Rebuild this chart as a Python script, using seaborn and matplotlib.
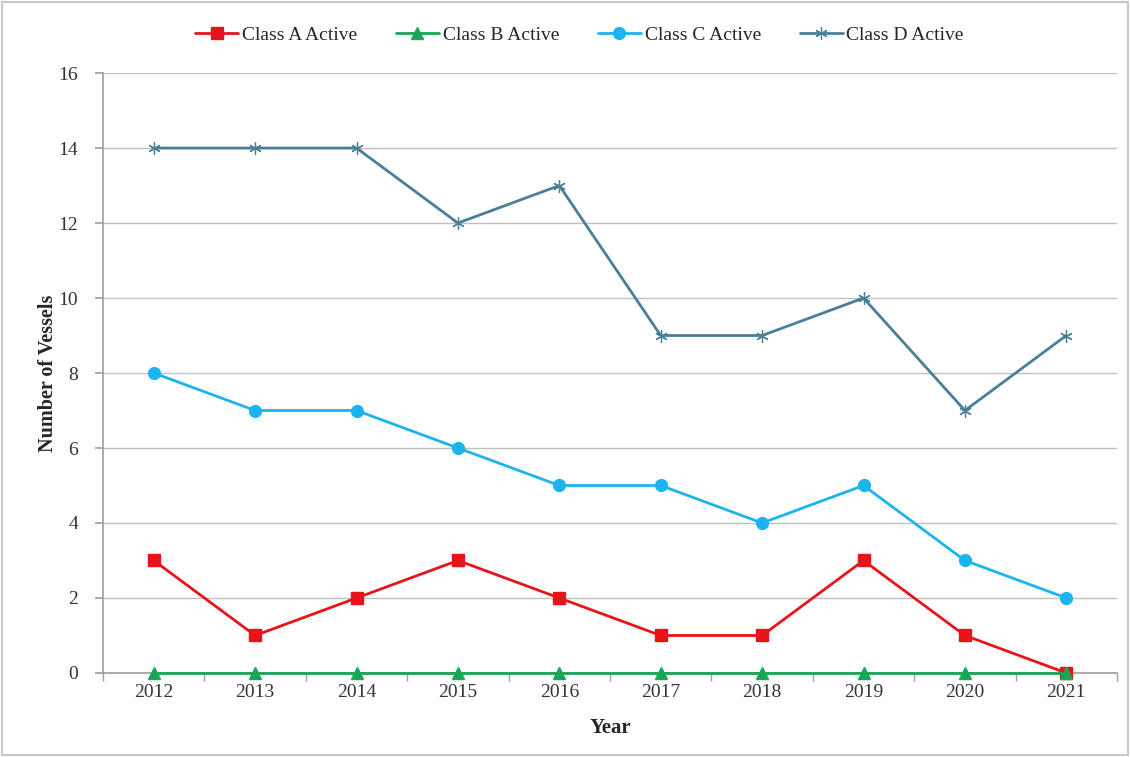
import matplotlib
matplotlib.use("Agg")
import matplotlib.pyplot as plt
import seaborn as sns
import pandas as pd
from matplotlib.ticker import MultipleLocator, FixedLocator

years = [2012, 2013, 2014, 2015, 2016, 2017, 2018, 2019, 2020, 2021]
class_a = [3, 1, 2, 3, 2, 1, 1, 3, 1, 0]
class_b = [0, 0, 0, 0, 0, 0, 0, 0, 0, 0]
class_c = [8, 7, 7, 6, 5, 5, 4, 5, 3, 2]
class_d = [14, 14, 14, 12, 13, 9, 9, 10, 7, 9]

series_names = ["Class A Active", "Class B Active", "Class C Active", "Class D Active"]
series_values = [class_a, class_b, class_c, class_d]

colors = ["#e8141c", "#1aa655", "#1cb4ee", "#4a7f98"]
marker_list = ["s", "^", "o", (6, 2, 0)]

sns.set_theme(style="white")
plt.rcParams["font.family"] = ["Liberation Serif", "DejaVu Serif"]

fig = plt.figure(figsize=(11.3, 7.57), dpi=100)
ax = fig.add_axes([0.0912, 0.111, 0.8973, 0.7925])

for name, vals, col, mk in zip(series_names, series_values, colors, marker_list):
    d = pd.DataFrame({"Year": years, "Count": vals})
    star = mk == (6, 2, 0)
    sns.lineplot(
        data=d, x="Year", y="Count", color=col, marker=mk, label=name,
        linewidth=2, markersize=9 if star else 8.5,
        markeredgewidth=0.9 if star else 1,
        markeredgecolor=col, ax=ax, zorder=3, clip_on=False,
    )

ax.set_xlim(2011.5, 2021.5)
ax.set_ylim(0, 16)
ax.yaxis.set_major_locator(MultipleLocator(2))
ax.set_xticks(years)
ax.set_xticklabels([str(y) for y in years])
ax.xaxis.set_minor_locator(FixedLocator([y + 0.5 for y in [2011] + years]))
ax.tick_params(axis="x", which="major", length=0, pad=8, labelsize=14)
ax.tick_params(axis="x", which="minor", length=6, color="#a0a0a0", direction="out", bottom=True)
ax.tick_params(axis="y", which="major", length=6, color="#a0a0a0", direction="out",
               labelsize=14, pad=12, left=True)
for lbl in ax.get_xticklabels() + ax.get_yticklabels():
    lbl.set_color("#333333")

ax.grid(axis="y", color="#c0c0c0", linewidth=1)
ax.set_axisbelow(True)
for side in ["top", "right"]:
    ax.spines[side].set_visible(False)
ax.spines["left"].set_color("#a0a0a0")
ax.spines["bottom"].set_color("#a0a0a0")

ax.set_xlabel("Year", fontsize=15, fontweight="bold", labelpad=12)
ax.set_ylabel("Number of Vessels", fontsize=14.5, fontweight="bold", labelpad=0)

handles, labels = ax.get_legend_handles_labels()
ax.legend(handles, labels, loc="lower center", bbox_to_anchor=(0.47, 1.02), ncol=4,
          frameon=False, fontsize=14, handlelength=2.2, handletextpad=0.2,
          columnspacing=2.0)

# light frame round the whole picture
fig.patches.append(plt.Rectangle((0.002, 0.003), 0.996, 0.994, transform=fig.transFigure,
                                 fill=False, edgecolor="#c8c8c8", linewidth=1.5))

fig.savefig("out.png", dpi=100)
